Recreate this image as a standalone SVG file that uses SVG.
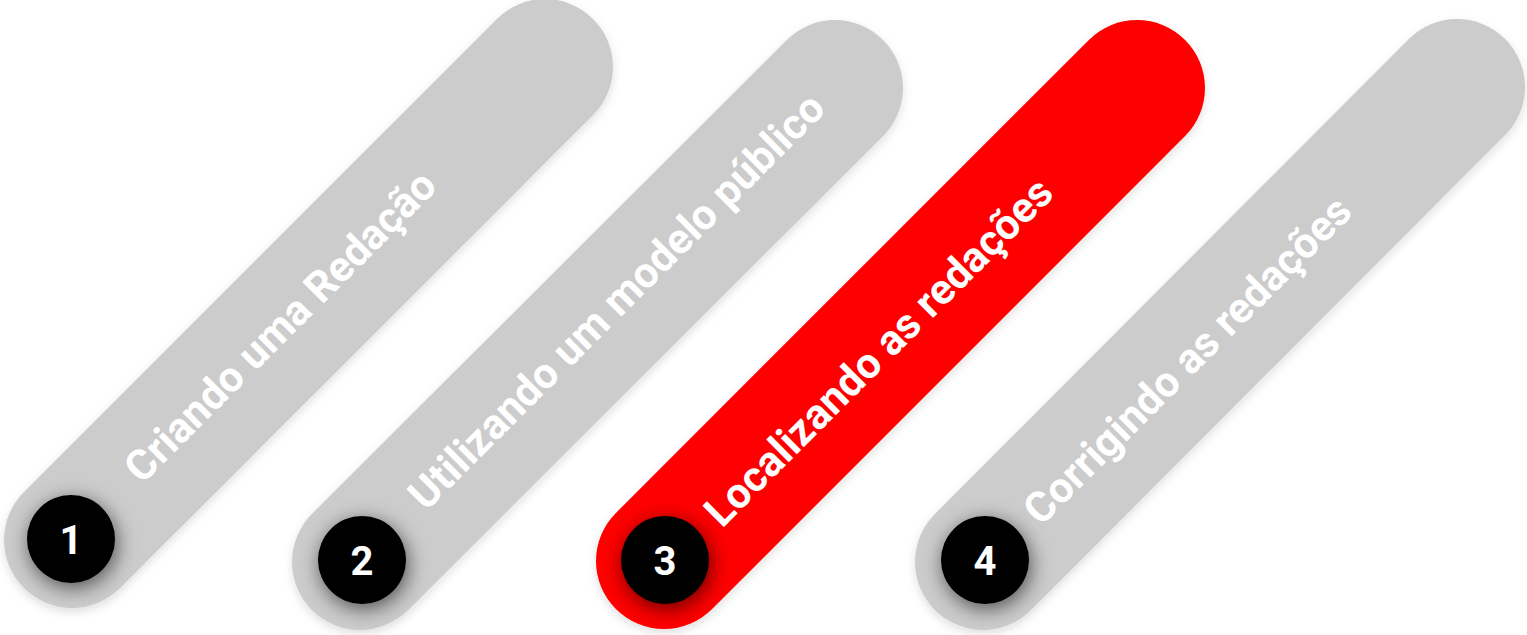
<svg xmlns="http://www.w3.org/2000/svg" width="1527" height="635" viewBox="0 0 1527 635">
<defs>
<filter id="pillShadow" x="-20%" y="-20%" width="140%" height="140%">
<feDropShadow dx="0" dy="4" stdDeviation="5" flood-color="#000" flood-opacity="0.12"/>
</filter>
<filter id="circShadow" x="-80%" y="-80%" width="260%" height="260%">
<feDropShadow dx="2" dy="5" stdDeviation="10" flood-color="#000" flood-opacity="0.6"/>
</filter>
</defs>
<style>
.pill{stroke-width:136;stroke-linecap:round;fill:none}
.grey{stroke:#cccccc}
.red{stroke:#ff0000}
.num{fill:#000}
.lbl{font-family:Roboto,"Liberation Sans",sans-serif;font-weight:700;font-size:42.5px;fill:#fff}
.digit{font-family:Roboto,"Liberation Sans",sans-serif;font-weight:700;font-size:40px;fill:#fff;text-anchor:middle}
</style>
<g id="step1">
<line class="pill grey" x1="72" y1="540" x2="545" y2="67" filter="url(#pillShadow)"/>
<circle class="num" cx="71" cy="539" r="44" filter="url(#circShadow)"/>
<text class="digit" x="71" y="554">1</text>
<text class="lbl" transform="translate(142,485) rotate(-45)" textLength="420">Criando uma Redação</text>
</g>
<g id="step2">
<line class="pill grey" x1="360" y1="562" x2="835" y2="88" filter="url(#pillShadow)"/>
<circle class="num" cx="362" cy="560" r="44" filter="url(#circShadow)"/>
<text class="digit" x="362" y="575">2</text>
<text class="lbl" transform="translate(426,512) rotate(-45)">Utilizando um modelo público</text>
</g>
<g id="step3">
<line class="pill red" x1="664" y1="561" x2="1137" y2="88" filter="url(#pillShadow)"/>
<circle class="num" cx="665" cy="560" r="44" filter="url(#circShadow)"/>
<text class="digit" x="665" y="575">3</text>
<text class="lbl" transform="translate(722,529) rotate(-45)">Localizando as redações</text>
</g>
<g id="step4">
<line class="pill grey" x1="983" y1="562" x2="1457" y2="87" filter="url(#pillShadow)"/>
<circle class="num" cx="985" cy="560" r="44" filter="url(#circShadow)"/>
<text class="digit" x="985" y="575">4</text>
<text class="lbl" transform="translate(1041,527) rotate(-45)">Corrigindo as redações</text>
</g>
<g id="connectors"></g>
</svg>
